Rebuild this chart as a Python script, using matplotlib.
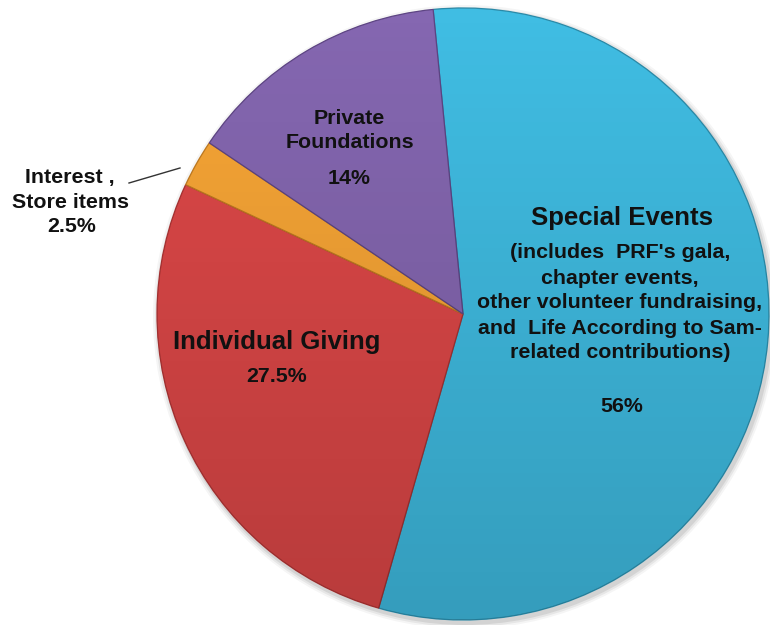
import numpy as np
import matplotlib.pyplot as plt
from matplotlib.patches import Circle

# slice data (clockwise from the top)
labels = ["Special Events", "Individual Giving", "Interest , Store items", "Private Foundations"]
shares = [56, 27.5, 2.5, 14]
colors = ["#40bde3", "#de4848", "#f8a636", "#8567b1"]
edge_colors = ["#2a8aa8", "#a83232", "#c07a20", "#5e4584"]

W, H = 770, 625
cx, cy, r = 463, 314, 306


def py(y):
    # pixel row (top origin) -> data y
    return H - y


plt.rcParams['font.family'] = ['Liberation Sans', 'DejaVu Sans']
fig = plt.figure(figsize=(W / 100, H / 100), dpi=100)
ax = fig.add_axes([0, 0, 1, 1])

# soft shadow
for k, a in [(6, 0.04), (4, 0.06), (2, 0.08)]:
    ax.add_patch(Circle((cx + 2, py(cy) - 3), r + k, color='black', alpha=a, lw=0, zorder=0))

wedges, _ = ax.pie(shares, colors=colors, startangle=95.6, counterclock=False,
                   center=(cx, py(cy)), radius=r, frame=True,
                   wedgeprops=dict(linewidth=0.9))
for w, ec in zip(wedges, edge_colors):
    w.set_edgecolor(ec)
    w.set_zorder(1)

# light top / darker bottom shading
t = np.linspace(0, 1, 256)
shade = np.zeros((256, 1, 4))
shade[:, 0, 3] = 0.17 * t
img = ax.imshow(shade, extent=(cx - r, cx + r, py(cy) - r, py(cy) + r),
                aspect='auto', zorder=2, interpolation='bilinear', origin='upper')
img.set_clip_path(Circle((cx, py(cy)), r, transform=ax.transData))
ax.set_xlim(0, W)
ax.set_ylim(0, H)
ax.axis('off')

tc = '#111111'
big = 18.5
small = 15.4

ax.text(622, py(218), "Special Events", ha='center', va='center', fontsize=big, fontweight='bold', color=tc, zorder=5)
sub_lines = ["(includes  PRF's gala,", "chapter events,", "other volunteer fundraising,",
             "and  Life According to Sam-", "related contributions)"]
for i, line in enumerate(sub_lines):
    ax.text(620, py(253 + 25 * i), line, ha='center', va='center', fontsize=small,
            fontweight='bold', color=tc, zorder=5)
ax.text(622, py(407), "56%", ha='center', va='center', fontsize=small, fontweight='bold', color=tc, zorder=5)

ax.text(277, py(342), "Individual Giving", ha='center', va='center', fontsize=big, fontweight='bold', color=tc, zorder=5)
ax.text(277, py(377), "27.5%", ha='center', va='center', fontsize=small, fontweight='bold', color=tc, zorder=5)

ax.text(349, py(118), "Private", ha='center', va='center', fontsize=small, fontweight='bold', color=tc, zorder=5)
ax.text(350, py(142), "Foundations", ha='center', va='center', fontsize=small, fontweight='bold', color=tc, zorder=5)
ax.text(349, py(178), "14%", ha='center', va='center', fontsize=small, fontweight='bold', color=tc, zorder=5)

ax.text(70, py(178), "Interest ,", ha='center', va='center', fontsize=small, fontweight='bold', color=tc, zorder=5)
ax.text(70, py(203), "Store items", ha='center', va='center', fontsize=small, fontweight='bold', color=tc, zorder=5)
ax.text(72, py(227), "2.5%", ha='center', va='center', fontsize=small, fontweight='bold', color=tc, zorder=5)
ax.plot([129, 180], [py(183), py(168)], color='#333333', lw=1.0, zorder=5)

fig.savefig("out.png", dpi=100)
